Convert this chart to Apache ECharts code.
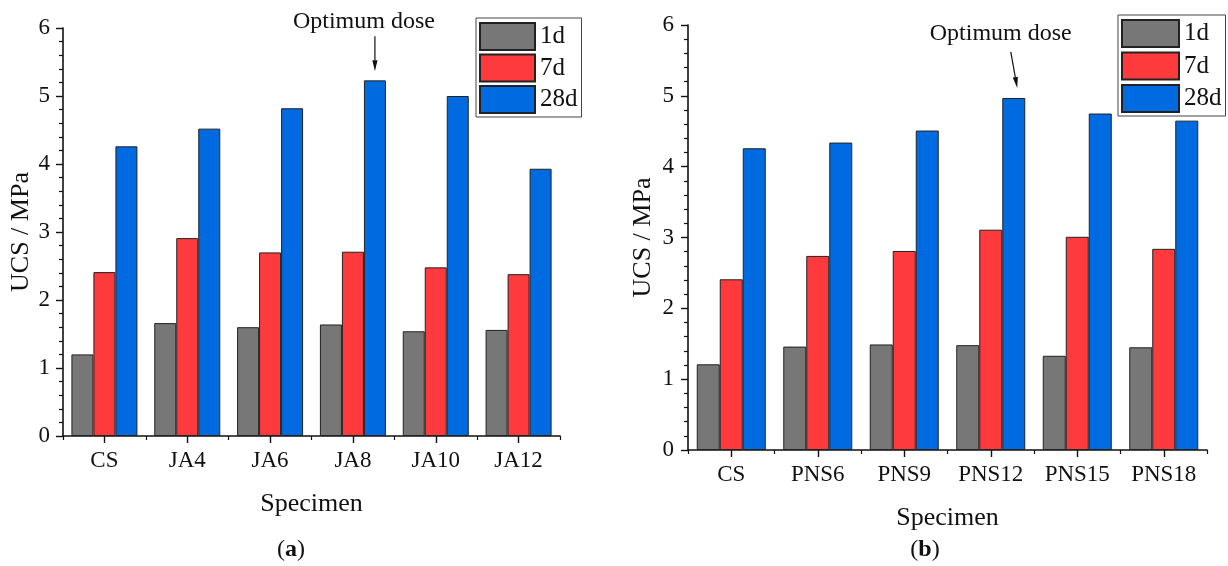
<!DOCTYPE html>
<html>
<head>
<meta charset="utf-8">
<script src="https://cdn.jsdelivr.net/npm/echarts@6/dist/echarts.min.js"></script>
<style>
html,body{margin:0;padding:0;background:#fff;}
#main{width:1228px;height:566px;}
</style>
</head>
<body>
<div id="main"></div>
<script>
// ---- data ----
var catsA = ['CS', 'JA4', 'JA6', 'JA8', 'JA10', 'JA12'];
var a1d  = [1.20, 1.66, 1.60, 1.64, 1.54, 1.56];
var a7d  = [2.41, 2.91, 2.70, 2.71, 2.48, 2.38];
var a28d = [4.26, 4.52, 4.82, 5.23, 5.00, 3.93];

var catsB = ['CS', 'PNS6', 'PNS9', 'PNS12', 'PNS15', 'PNS18'];
var b1d  = [1.21, 1.46, 1.49, 1.48, 1.33, 1.45];
var b7d  = [2.41, 2.74, 2.81, 3.11, 3.01, 2.84];
var b28d = [4.26, 4.34, 4.51, 4.97, 4.75, 4.65];

var seriesNames = ['1d', '7d', '28d'];
var yMin = 0, yMax = 6, yStep = 1;
var optimumA = 'JA8', optimumB = 'PNS12';
var annotText = 'Optimum dose';
var xName = 'Specimen', yName = 'UCS / MPa';

// ---- style ----
var FONT = 'Liberation Serif';
var colors = ['#777777', '#FF3A3C', '#006BE0'];
var axisColor = '#111';
var bwA = 22, bwB = 23;

var chart = echarts.init(document.getElementById('main'), null, {renderer: 'canvas'});

function yAxis(gi, gap, margin) {
  return {
    type: 'value', gridIndex: gi, min: yMin, max: yMax, interval: yStep,
    name: yName, nameLocation: 'middle', nameGap: gap, nameRotate: 90,
    nameTextStyle: {fontFamily: FONT, fontSize: 26, color: '#111'},
    axisLine: {show: true, lineStyle: {color: axisColor, width: 1.6}},
    axisTick: {show: true, length: 7, lineStyle: {color: axisColor, width: 1.4}},
    minorTick: {show: true, splitNumber: 5, length: 4, lineStyle: {color: axisColor, width: 1.2}},
    axisLabel: {fontFamily: FONT, fontSize: 23, color: '#111', margin: margin},
    splitLine: {show: false}
  };
}
function xAxisMain(gi, cats, gap) {
  return {
    type: 'category', gridIndex: gi, data: cats,
    name: xName, nameLocation: 'middle', nameGap: gap,
    nameTextStyle: {fontFamily: FONT, fontSize: 26, color: '#111'},
    axisLine: {show: true, lineStyle: {color: axisColor, width: 1.6}},
    axisTick: {show: true, alignWithLabel: true, length: 7, lineStyle: {color: axisColor, width: 1.4}},
    axisLabel: {fontFamily: FONT, fontSize: 23, color: '#111', margin: 13},
    splitLine: {show: false}
  };
}
function xAxisBound(gi, cats) {
  return {
    type: 'category', gridIndex: gi, data: cats, position: 'bottom',
    axisLine: {show: false},
    axisTick: {show: true, alignWithLabel: false, length: 4, lineStyle: {color: axisColor, width: 1.2}},
    axisLabel: {show: false},
    splitLine: {show: false}
  };
}
function barSeries(name, xi, yi, data, color, bw) {
  return {
    name: name, type: 'bar', xAxisIndex: xi, yAxisIndex: yi, data: data,
    barWidth: bw, barGap: '0%',
    itemStyle: {color: color, borderColor: '#222', borderWidth: 1},
    emphasis: {disabled: true}, animation: false
  };
}
function legend(left, top, w, gap) {
  return {
    data: seriesNames, orient: 'vertical', left: left, top: top,
    itemWidth: w, itemHeight: 27, itemGap: gap,
    padding: [4, 4, 3, 3], borderColor: '#444', borderWidth: 1,
    icon: 'rect', selectedMode: false,
    textStyle: {fontFamily: FONT, fontSize: 25, color: '#111', lineHeight: 27, height: 27}
  };
}

var option = {
  backgroundColor: '#fff',
  animation: false,
  grid: [
    {left: 63, top: 28, width: 497, height: 408},
    {left: 688, top: 25, width: 519, height: 425}
  ],
  xAxis: [xAxisMain(0, catsA, 55), xAxisBound(0, catsA), xAxisMain(1, catsB, 55), xAxisBound(1, catsB)],
  yAxis: [yAxis(0, 28, 13), yAxis(1, 32, 14)],
  legend: [legend(476, 18, 55, 2.5), legend(1118, 15, 57, 3.5)],
  series: [
    barSeries(seriesNames[0], 0, 0, a1d, colors[0], bwA),
    barSeries(seriesNames[1], 0, 0, a7d, colors[1], bwA),
    barSeries(seriesNames[2], 0, 0, a28d, colors[2], bwA),
    barSeries(seriesNames[0], 2, 1, b1d, colors[0], bwB),
    barSeries(seriesNames[1], 2, 1, b7d, colors[1], bwB),
    barSeries(seriesNames[2], 2, 1, b28d, colors[2], bwB)
  ]
};
chart.setOption(option);

// ---- annotations anchored to the optimum bars ----
function arrowGraphic(tipX, tipY, startX, startY) {
  var dx = tipX - startX, dy = tipY - startY;
  var len = Math.sqrt(dx * dx + dy * dy);
  var ux = dx / len, uy = dy / len;
  var hl = 11, hw = 2.6;
  var bx = tipX - ux * hl, by = tipY - uy * hl;
  return [
    {type: 'line', shape: {x1: startX, y1: startY, x2: bx, y2: by}, style: {stroke: '#111', lineWidth: 1.2}, silent: true},
    {type: 'polygon', shape: {points: [[tipX, tipY], [bx - uy * hw, by + ux * hw], [bx + uy * hw, by - ux * hw]]}, style: {fill: '#111'}, silent: true}
  ];
}
var elems = [];
// left
var pA = chart.convertToPixel({xAxisIndex: 0, yAxisIndex: 0}, [optimumA, a28d[catsA.indexOf(optimumA)]]);
var tipAX = pA[0] + bwA, tipAY = pA[1] - 9;
elems = elems.concat(arrowGraphic(tipAX, tipAY, tipAX, tipAY - 35));
elems.push({type: 'text', x: tipAX - 11, y: tipAY - 50, style: {text: annotText, font: '24px "Liberation Serif"', fill: '#111', textAlign: 'center', textVerticalAlign: 'middle'}, silent: true});
// right
var pB = chart.convertToPixel({xAxisIndex: 2, yAxisIndex: 1}, [optimumB, b28d[catsB.indexOf(optimumB)]]);
var tipBX = pB[0] + bwB + 3.5, tipBY = pB[1] - 10;
elems = elems.concat(arrowGraphic(tipBX, tipBY, tipBX - 6.5, tipBY - 36));
elems.push({type: 'text', x: tipBX - 16.5, y: tipBY - 54, style: {text: annotText, font: '24px "Liberation Serif"', fill: '#111', textAlign: 'center', textVerticalAlign: 'middle'}, silent: true});
// panel labels
function panelLabel(x, y, letter) {
  return {type: 'text', x: x, y: y, silent: true, style: {
    text: '{n|(}{b|' + letter + '}{n|)}', textAlign: 'center', textVerticalAlign: 'middle',
    rich: {n: {fontFamily: FONT, fontSize: 24, fill: '#111'}, b: {fontFamily: FONT, fontSize: 24, fontWeight: 'bold', fill: '#111'}}
  }};
}
elems.push(panelLabel(291, 550, 'a'));
elems.push(panelLabel(925, 550, 'b'));
chart.setOption({graphic: elems});
</script>
</body>
</html>
